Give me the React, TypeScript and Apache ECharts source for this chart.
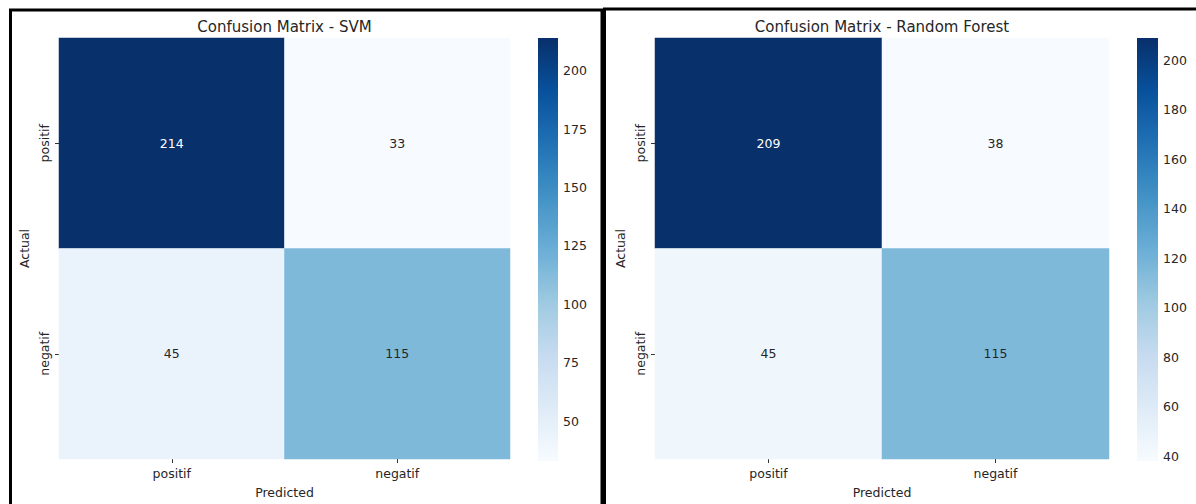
import React, { useEffect, useRef } from "react";
import * as echarts from "echarts";

const categories = ["positif", "negatif"];
const svmMatrix = [
  [214, 33],
  [45, 115],
];
const rfMatrix = [
  [209, 38],
  [45, 115],
];
const svmTicks = [50, 75, 100, 125, 150, 175, 200];
const rfTicks = [40, 60, 80, 100, 120, 140, 160, 180, 200];
const svmTitle = "Confusion Matrix - SVM";
const rfTitle = "Confusion Matrix - Random Forest";
const xName = "Predicted";
const yName = "Actual";

const blues = [
  "#f7fbff",
  "#deebf7",
  "#c6dbef",
  "#9ecae1",
  "#6baed6",
  "#4292c6",
  "#2171b5",
  "#08519c",
  "#08306b",
];

const FONT = "DejaVu Sans";
const TXT = "#262626";
const FS = 12.5;

function flat(m: number[][]) {
  return m.reduce((a, r) => a.concat(r), [] as number[]);
}

function cellData(m: number[][]) {
  const vals = flat(m);
  const mn = Math.min(...vals);
  const mx = Math.max(...vals);
  const out: any[] = [];
  m.forEach((row, i) =>
    row.forEach((v, j) => {
      const t = (v - mn) / (mx - mn);
      out.push({
        value: [j, i, v],
        label: { color: t > 0.6 ? "#ffffff" : TXT },
      });
    })
  );
  return out;
}

export default function App() {
  const ref = useRef<HTMLDivElement>(null);
  useEffect(() => {
    document.body.style.margin = "0";
    const chart = echarts.init(ref.current!, null, { renderer: "svg" });

    const panels = [
      { m: svmMatrix, ticks: svmTicks, title: svmTitle, hx: 59, hw: 451, cx: 538, cw: 20 },
      { m: rfMatrix, ticks: rfTicks, title: rfTitle, hx: 655, hw: 454, cx: 1137, cw: 21 },
    ];
    const top = 38;
    const height = 423;

    const grid: any[] = [];
    const xAxis: any[] = [];
    const yAxis: any[] = [];
    const series: any[] = [];
    const visualMap: any[] = [];
    const title: any[] = [];

    const gradStops = blues
      .slice()
      .reverse()
      .map((c, i) => ({ offset: i / (blues.length - 1), color: c }));

    panels.forEach((p, k) => {
      const vals = flat(p.m);
      const mn = Math.min(...vals);
      const mx = Math.max(...vals);
      const gi = k * 2;
      grid.push({ left: p.hx, top, width: p.hw, height });
      grid.push({ left: p.cx, top, width: p.cw, height });
      title.push({
        text: p.title,
        left: p.hx + p.hw / 2 - 5,
        top: 14,
        textAlign: "center",
        textStyle: { fontFamily: FONT, fontSize: 15, fontWeight: "normal", color: TXT },
      });
      xAxis.push({
        type: "category",
        gridIndex: gi,
        data: categories,
        position: "bottom",
        name: xName,
        nameLocation: "middle",
        nameGap: 27,
        nameTextStyle: { fontFamily: FONT, fontSize: FS, color: TXT },
        axisLine: { show: false },
        axisTick: { show: true, alignWithLabel: true, length: 4, lineStyle: { color: "#333" } },
        axisLabel: { fontFamily: FONT, fontSize: FS, color: TXT, margin: 8 },
        splitLine: { show: false },
      });
      yAxis.push({
        type: "category",
        gridIndex: gi,
        data: categories,
        inverse: true,
        name: yName,
        nameLocation: "middle",
        nameGap: 28,
        nameRotate: 90,
        nameTextStyle: { fontFamily: FONT, fontSize: FS, color: TXT },
        axisLine: { show: false },
        axisTick: { show: true, alignWithLabel: true, length: 4, lineStyle: { color: "#333" } },
        axisLabel: { fontFamily: FONT, fontSize: FS, color: TXT, rotate: 90, margin: 8 },
        splitLine: { show: false },
      });
      xAxis.push({ type: "value", gridIndex: gi + 1, min: 0, max: 1, show: false });
      yAxis.push({
        type: "value",
        gridIndex: gi + 1,
        min: mn,
        max: mx,
        position: "right",
        axisLine: { show: false },
        splitLine: { show: false },
        axisTick: { show: true, length: 4, customValues: p.ticks, lineStyle: { color: "#333" } },
        axisLabel: {
          fontFamily: FONT,
          fontSize: FS,
          color: TXT,
          margin: 5,
          customValues: p.ticks,
        },
      });
      const heatIndex = series.length;
      series.push({
        type: "heatmap",
        xAxisIndex: gi,
        yAxisIndex: gi,
        data: cellData(p.m),
        label: { show: true, fontFamily: FONT, fontSize: FS },
        itemStyle: { borderWidth: 0 },
        emphasis: { disabled: true },
      });
      series.push({
        type: "custom",
        xAxisIndex: gi + 1,
        yAxisIndex: gi + 1,
        data: [[0, mx]],
        silent: true,
        renderItem: (params: any, api: any) => {
          const tl = api.coord([0, mx]);
          const br = api.coord([1, mn]);
          return {
            type: "rect",
            shape: { x: tl[0], y: tl[1], width: br[0] - tl[0], height: br[1] - tl[1] },
            style: { fill: new echarts.graphic.LinearGradient(0, 0, 0, 1, gradStops) },
          };
        },
      });
      visualMap.push({
        type: "continuous",
        show: false,
        seriesIndex: heatIndex,
        dimension: 2,
        min: mn,
        max: mx,
        inRange: { color: blues },
      });
    });

    chart.setOption({
      animation: false,
      backgroundColor: "#ffffff",
      title,
      grid,
      xAxis,
      yAxis,
      series,
      visualMap,
      graphic: [
        {
          type: "rect",
          shape: { x: 10.5, y: 10, width: 591.5, height: 520 },
          style: { fill: "none", stroke: "#000", lineWidth: 3 },
          silent: true,
          z: 100,
        },
        {
          type: "rect",
          shape: { x: 604.5, y: 9, width: 620, height: 520 },
          style: { fill: "none", stroke: "#000", lineWidth: 3 },
          silent: true,
          z: 100,
        },
      ],
    });
    return () => chart.dispose();
  }, []);
  return <div ref={ref} style={{ width: 1196, height: 504 }} />;
}
